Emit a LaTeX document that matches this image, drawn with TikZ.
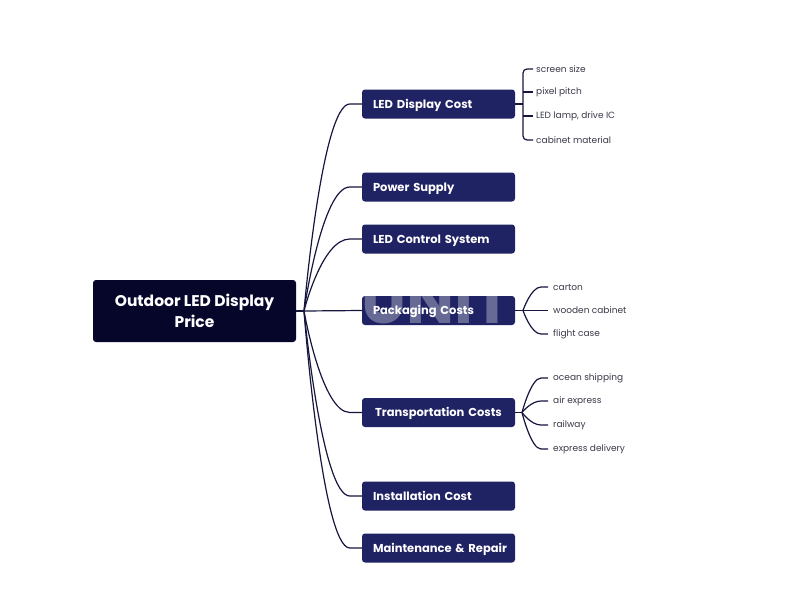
\documentclass[tikz,border=0pt]{standalone}
\usepackage{fontspec}
\setmainfont{Poppins}
\usetikzlibrary{calc}
\definecolor{rootc}{HTML}{06062B}
\definecolor{branchc}{HTML}{1F2263}
\definecolor{linec}{HTML}{16163F}
\definecolor{leafc}{HTML}{3A3A4A}
\begin{document}
\begin{tikzpicture}[x=1pt,y=-1pt,
  rootbox/.style={fill=rootc, rounded corners=3pt, minimum width=203pt, minimum height=62pt, inner sep=0pt, text=white, font=\fontsize{15.5}{21}\selectfont\bfseries, align=center},
  branchbox/.style={fill=branchc, rounded corners=3pt, minimum width=153pt, minimum height=29pt, inner xsep=11pt, inner ysep=0pt, text width=131pt, text height=8.3pt, text depth=0pt, align=left, text=white, font=\fontsize{11.5}{13}\selectfont\bfseries},
  leaf/.style={anchor=west, inner sep=0pt, text=leafc, font=\fontsize{9}{11}\selectfont},
  conn/.style={draw=linec, line width=1.2pt},
  wmark/.style={text=white, opacity=0.33, font=\fontsize{64}{64}\selectfont\bfseries, inner sep=0pt, anchor=base}]
\useasboundingbox (0,0) rectangle (800,600);
\fill[white] (0,0) rectangle (800,600);

% root
\node[rootbox] (root) at (194.5,311) {Outdoor LED Display\\Price};
\coordinate (J) at (304,311);

% branches
\node[branchbox] (b1) at (438.5,104) {LED Display Cost};
\node[branchbox] (b2) at (438.5,187) {Power Supply};
\node[branchbox] (b3) at (438.5,239) {LED Control System};
\node[branchbox] (b4) at (438.5,310.5) {Packaging Costs};
\node[branchbox, align=center] (b5) at (438.5,412.5) {Transportation Costs};
\node[branchbox] (b6) at (438.5,496) {Installation Cost};
\node[branchbox] (b7) at (438.5,548) {\mbox{Maintenance \& Repair}};

% root connectors
\draw[conn] (root.east) -- (J);
\foreach \b in {b1,b2,b3,b5,b6,b7}{
  \draw[conn] (J) .. controls (J) and ($(\b.west)+(-40,0)$) .. ($(\b.west)+(-12,0)$) -- (\b.west);
}
\draw[conn] (J) -- (b4.west);

% LED Display Cost leaves
\coordinate (c1) at (523,104);
\draw[conn] (b1.east) -- (c1);
\node[leaf] (l11) at (536,69) {screen size};
\node[leaf] (l12) at (536,92) {pixel pitch};
\node[leaf] (l13) at (536,116) {LED lamp, drive IC};
\node[leaf] (l14) at (536,140) {cabinet material};
\draw[conn, rounded corners=4pt] ([xshift=-3pt]l11.west) -- (l11.west -| c1) -- (l14.west -| c1) -- ([xshift=-3pt]l14.west);
\draw[conn] (l12.west -| c1) -- ([xshift=-3pt]l12.west);
\draw[conn] (l13.west -| c1) -- ([xshift=-3pt]l13.west);

% Packaging leaves
\coordinate (c4) at (523,310.5);
\draw[conn] (b4.east) -- (c4);
\node[leaf] (l41) at (553,287) {carton};
\node[leaf] (l42) at (553,310.5) {wooden cabinet};
\node[leaf] (l43) at (553,334) {flight case};
\foreach \l in {l41,l43}{
  \draw[conn] (c4) .. controls (c4) and ($(\l.west)+(-22,0)$) .. ($(\l.west)+(-12,0)$) -- ([xshift=-5pt]\l.west);
}
\draw[conn] (c4) -- ([xshift=-5pt]l42.west);

% Transportation leaves
\coordinate (c5) at (522,412.5);
\draw[conn] (b5.east) -- (c5);
\node[leaf] (l51) at (553,378) {ocean shipping};
\node[leaf] (l52) at (553,401) {air express};
\node[leaf] (l53) at (553,425) {railway};
\node[leaf] (l54) at (553,449) {express delivery};
\foreach \l in {l51,l52,l53,l54}{
  \draw[conn] (c5) .. controls (c5) and ($(\l.west)+(-22,0)$) .. ($(\l.west)+(-12,0)$) -- ([xshift=-5pt]\l.west);
}

% watermark (visible only on the box)
\begin{scope}
\clip[rounded corners=3pt] (b4.south west) rectangle (b4.north east);
\node[wmark] (wm) at (436,323) {UNIT};
\end{scope}
\end{tikzpicture}
\end{document}
